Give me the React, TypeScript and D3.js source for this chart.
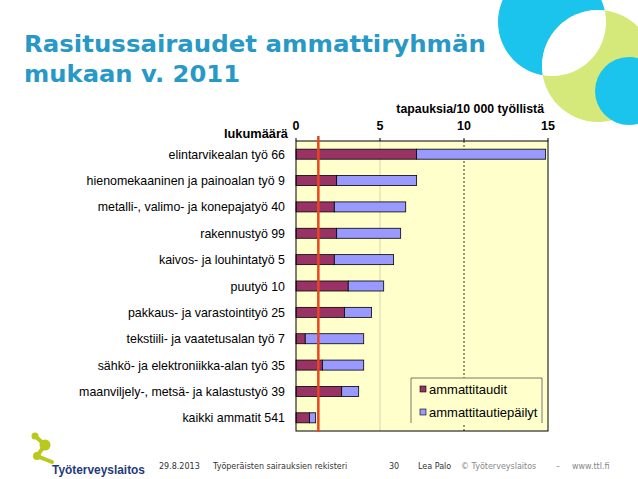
import React from "react";
import * as d3 from "d3";

const categories = [
  "elintarvikealan työ",
  "hienomekaaninen ja painoalan työ",
  "metalli-, valimo- ja konepajatyö",
  "rakennustyö",
  "kaivos- ja louhintatyö",
  "puutyö",
  "pakkaus- ja varastointityö",
  "tekstiili- ja vaatetusalan työ",
  "sähkö- ja elektroniikka-alan työ",
  "maanviljely-, metsä- ja kalastustyö",
  "kaikki ammatit",
];
const counts = [66, 9, 40, 99, 5, 10, 25, 7, 35, 39, 541];
const ammattitaudit = [7.18, 2.42, 2.28, 2.42, 2.28, 3.11, 2.88, 0.55, 1.57, 2.72, 0.81];
const ammattitautiepailyt = [7.68, 4.76, 4.25, 3.81, 3.53, 2.11, 1.62, 3.48, 2.46, 1.01, 0.36];
const xTicks = [0, 5, 10, 15];
const referenceValue = 1.33;
const seriesNames = ["ammattitaudit", "ammattitautiepäilyt"];
const seriesColors = ["#993366", "#9999ff"];

const FONT = "'Liberation Sans', Arial, sans-serif";

export default function App() {
  const W = 638;
  const H = 479;
  const plot = { left: 296, right: 548, top: 141, bottom: 431 };
  const x = d3.scaleLinear().domain([0, 15]).range([plot.left, plot.right]);
  const y = d3
    .scaleBand<string>()
    .domain(categories)
    .range([plot.top, plot.bottom])
    .paddingInner(0.62)
    .paddingOuter(0.31);

  const rows = categories.map((c, i) => ({
    c,
    label: `${c} ${counts[i]}`,
    a: ammattitaudit[i],
    b: ammattitautiepailyt[i],
  }));
  const stack = d3.stack<any>().keys(["a", "b"])(rows as any);

  const lg = { x: 411, y: 378, w: 131, h: 45 };

  return (
    <svg
      width={W}
      height={H}
      style={{ position: "absolute", left: 0, top: 0, background: "#fff" }}
    >
      <defs>
        <clipPath id="cyanClip">
          <circle cx={552} cy={22} r={54} />
        </clipPath>
      </defs>
      {/* decorative circles */}
      <circle cx={552} cy={22} r={54} fill="#1ac4ec" />
      <circle cx={598} cy={66} r={56} fill="#d5e97a" />
      <circle cx={598} cy={66} r={56} fill="#ffffff" clipPath="url(#cyanClip)" />
      <circle cx={629} cy={91} r={34} fill="#1ac4ec" />

      {/* title */}
      <text
        x={24}
        y={52}
        fontFamily="'DejaVu Sans', Verdana, sans-serif"
        fontWeight="bold"
        fontSize={23}
        fill="#2899c6"
        textLength={462}
        lengthAdjust="spacingAndGlyphs"
      >
        Rasitussairaudet ammattiryhmän
      </text>
      <text
        x={24}
        y={82}
        fontFamily="'DejaVu Sans', Verdana, sans-serif"
        fontWeight="bold"
        fontSize={23}
        fill="#2899c6"
        textLength={216}
        lengthAdjust="spacingAndGlyphs"
      >
        mukaan v. 2011
      </text>

      {/* plot background */}
      <rect
        x={plot.left}
        y={plot.top}
        width={plot.right - plot.left}
        height={plot.bottom - plot.top}
        fill="#ffffcc"
      />
      {/* gridlines */}
      <line x1={x(5)} x2={x(5)} y1={plot.top} y2={plot.bottom} stroke="#d6d6b0" strokeWidth={1} />
      <line
        x1={x(10)}
        x2={x(10)}
        y1={plot.top}
        y2={plot.bottom}
        stroke="#333"
        strokeWidth={1}
        strokeDasharray="2,2"
      />

      {/* bars */}
      {stack.map((layer, si) => (
        <g key={si}>
          {layer.map((d: any, i: number) => (
            <rect
              key={i}
              x={x(d[0])}
              y={y(categories[i])!}
              width={x(d[1]) - x(d[0])}
              height={y.bandwidth()}
              fill={seriesColors[si]}
              stroke="#000"
              strokeWidth={0.8}
            />
          ))}
        </g>
      ))}

      {/* plot frame */}
      <rect
        x={plot.left}
        y={plot.top}
        width={plot.right - plot.left}
        height={plot.bottom - plot.top}
        fill="none"
        stroke="#000"
        strokeWidth={1}
      />

      {/* legend */}
      <path
        d={`M${lg.x},${lg.y + lg.h} V${lg.y} H${lg.x + lg.w} V${lg.y + lg.h}`}
        fill="#ffffcc"
        stroke="#555"
        strokeWidth={0.8}
      />
      {seriesNames.map((s, i) => (
        <g key={s}>
          <rect
            x={420}
            y={386 + i * 23}
            width={6}
            height={6}
            fill={seriesColors[i]}
            stroke="#000"
            strokeWidth={0.6}
          />
          <text x={429} y={394 + i * 23} fontFamily={FONT} fontSize={13} fill="#000">
            {s}
          </text>
        </g>
      ))}

      {/* reference line */}
      <line
        x1={x(referenceValue)}
        x2={x(referenceValue)}
        y1={136}
        y2={432}
        stroke="#e8461e"
        strokeWidth={2.5}
      />

      {/* top axis */}
      {xTicks.map((t) => (
        <g key={t}>
          <line x1={x(t)} x2={x(t)} y1={plot.top - 3} y2={plot.top} stroke="#000" />
          <text
            x={x(t)}
            y={130}
            textAnchor="middle"
            fontFamily={FONT}
            fontWeight="bold"
            fontSize={12.5}
            fill="#000"
          >
            {t}
          </text>
        </g>
      ))}
      <text
        x={544}
        y={113}
        textAnchor="end"
        fontFamily={FONT}
        fontWeight="bold"
        fontSize={12.3}
        fill="#000"
      >
        tapauksia/10 000 työllistä
      </text>
      <text
        x={288}
        y={138}
        textAnchor="end"
        fontFamily={FONT}
        fontWeight="bold"
        fontSize={12.8}
        fill="#000"
      >
        lukumäärä
      </text>

      {/* category labels */}
      {rows.map((r) => (
        <text
          key={r.c}
          x={285}
          y={y(r.c)! + y.bandwidth() / 2 + 4.5}
          textAnchor="end"
          fontFamily={FONT}
          fontSize={12.4}
          fill="#000"
        >
          {r.label}
        </text>
      ))}

      {/* footer logo */}
      <g fill="#b9c81e">
        <circle cx={35} cy={436} r={3.5} />
        <circle cx={45} cy={445} r={5.5} />
        <circle cx={37} cy={456} r={4} />
        <path d="M35,436 L45,445 L37,456 L52,462" stroke="#b9c81e" strokeWidth={4} fill="none" strokeLinecap="round" />
      </g>
      <text
        x={52}
        y={474}
        fontFamily="'Liberation Sans Narrow', 'Liberation Sans', sans-serif"
        fontWeight="bold"
        fontSize={13.5}
        fill="#1f3b7a"
        textLength={93}
        lengthAdjust="spacingAndGlyphs"
      >
        Työterveyslaitos
      </text>
      <g fontFamily="'DejaVu Sans', Verdana, sans-serif" fontSize={8} fill="#333">
        <text x={159} y={469}>29.8.2013</text>
        <text x={213} y={469}>Työperäisten sairauksien rekisteri</text>
        <text x={389} y={469}>30</text>
        <text x={418} y={469}>Lea Palo</text>
        <text x={461} y={469} fill="#888">© Työterveyslaitos</text>
        <text x={556} y={469} fill="#888">–</text>
        <text x={572} y={469} fill="#888">www.ttl.fi</text>
      </g>
    </svg>
  );
}
